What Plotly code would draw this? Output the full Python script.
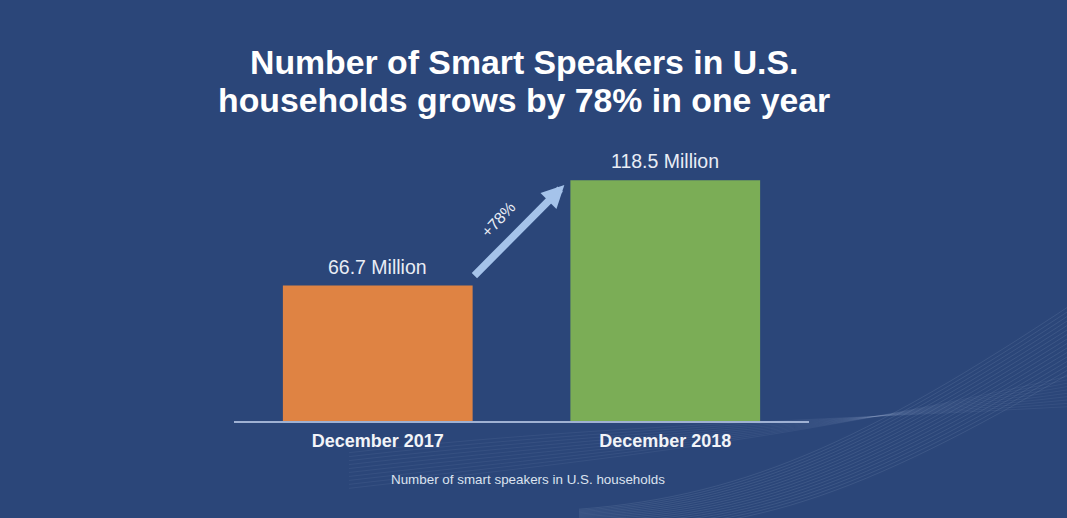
import plotly.graph_objects as go

categories = ["December 2017", "December 2018"]
speakers_millions = [66.7, 118.5]
bar_labels = ["66.7 Million", "118.5 Million"]
growth_label = "+78%"
title_lines = ["Number of Smart Speakers in U.S.", "households grows by 78% in one year"]
source_note = "Number of smart speakers in U.S. households"

bg = "#2B4679"
bar_colors = ["#DF8343", "#7BAD56"]
font = "Liberation Sans, Arial"

fig = go.Figure()
fig.add_trace(go.Bar(
    x=categories, y=speakers_millions,
    marker=dict(color=bar_colors, line=dict(width=0)),
    width=0.66,
    hoverinfo="skip",
))

# value labels sitting a bit above each bar
for cat, val, lab in zip(categories, speakers_millions, bar_labels):
    fig.add_annotation(
        x=cat, y=val, xref="x", yref="y", text=lab, showarrow=False,
        yanchor="bottom", yshift=6,
        font=dict(family=font, size=19.5, color="#E9EDF5"),
    )

# faint wave lines in the lower right, like the slide background
for i in range(16):
    off = i * 0.011
    fig.add_shape(
        type="path", xref="paper", yref="paper", layer="below",
        path=f"M 0.6,{-0.4 + off * 0.4} C 0.9,{-0.45 + off} 1.12,{-0.25 + off * 1.2} 1.5,{0.24 + off * 1.6}",
        line=dict(color="rgba(200,215,240,0.11)", width=1),
    )
for i in range(10):
    off = i * 0.015
    fig.add_shape(
        type="path", xref="paper", yref="paper", layer="below",
        path=f"M 0.2,{-0.12 - off} C 0.6,{-0.02 - off} 1.0,{0.0 - off * 0.5} 1.5,{0.06 + off}",
        line=dict(color="rgba(200,215,240,0.07)", width=1),
    )

# growth arrow between the two bars
tail_x, tail_y = 0.331, speakers_millions[0] + 4.2
head_x, head_y = 0.649, speakers_millions[1] - 2.3
fig.add_annotation(
    x=head_x, y=head_y, ax=tail_x, ay=tail_y,
    xref="x", yref="y", axref="x", ayref="y",
    text="", showarrow=True,
    arrowhead=2, arrowsize=0.6, arrowwidth=7.5, arrowcolor="#A5C3EA",
    standoff=0, startstandoff=0,
)
fig.add_annotation(
    x=(tail_x + head_x) / 2 - 0.07, y=(tail_y + head_y) / 2 + 5.5,
    xref="x", yref="y", text=growth_label, showarrow=False,
    textangle=-47,
    font=dict(family=font, size=16, color="#E9EDF5"),
)

# two-line title as annotations so the line spacing can be set
for txt, ypos in zip(title_lines, [1.36, 1.215]):
    fig.add_annotation(
        x=0.505, y=ypos, xref="paper", yref="paper", text=f"<b>{txt}</b>",
        showarrow=False, yanchor="middle",
        font=dict(family=font, size=33.8, color="white"),
    )

fig.add_annotation(
    x=0.511, y=-0.22, xref="paper", yref="paper", yanchor="middle",
    text=source_note, showarrow=False,
    font=dict(family=font, size=13.4, color="#DCE3EF"),
)

fig.update_layout(
    width=1067, height=518,
    paper_bgcolor=bg, plot_bgcolor="rgba(0,0,0,0)",
    margin=dict(l=234, r=258, t=157, b=97),
    showlegend=False,
    xaxis=dict(
        showline=True, linecolor="#9FB1D3", linewidth=1.5,
        showgrid=False, ticks="", fixedrange=True, ticklabelstandoff=3,
        tickfont=dict(family=font, size=18, color="#F2F4F8", weight="bold"),
    ),
    yaxis=dict(
        range=[0, 130], visible=False, showgrid=False, zeroline=False, fixedrange=True,
    ),
)

fig.write_html("out.html", config={"displayModeBar": False},
               post_script="document.body.style.margin='0px';")
